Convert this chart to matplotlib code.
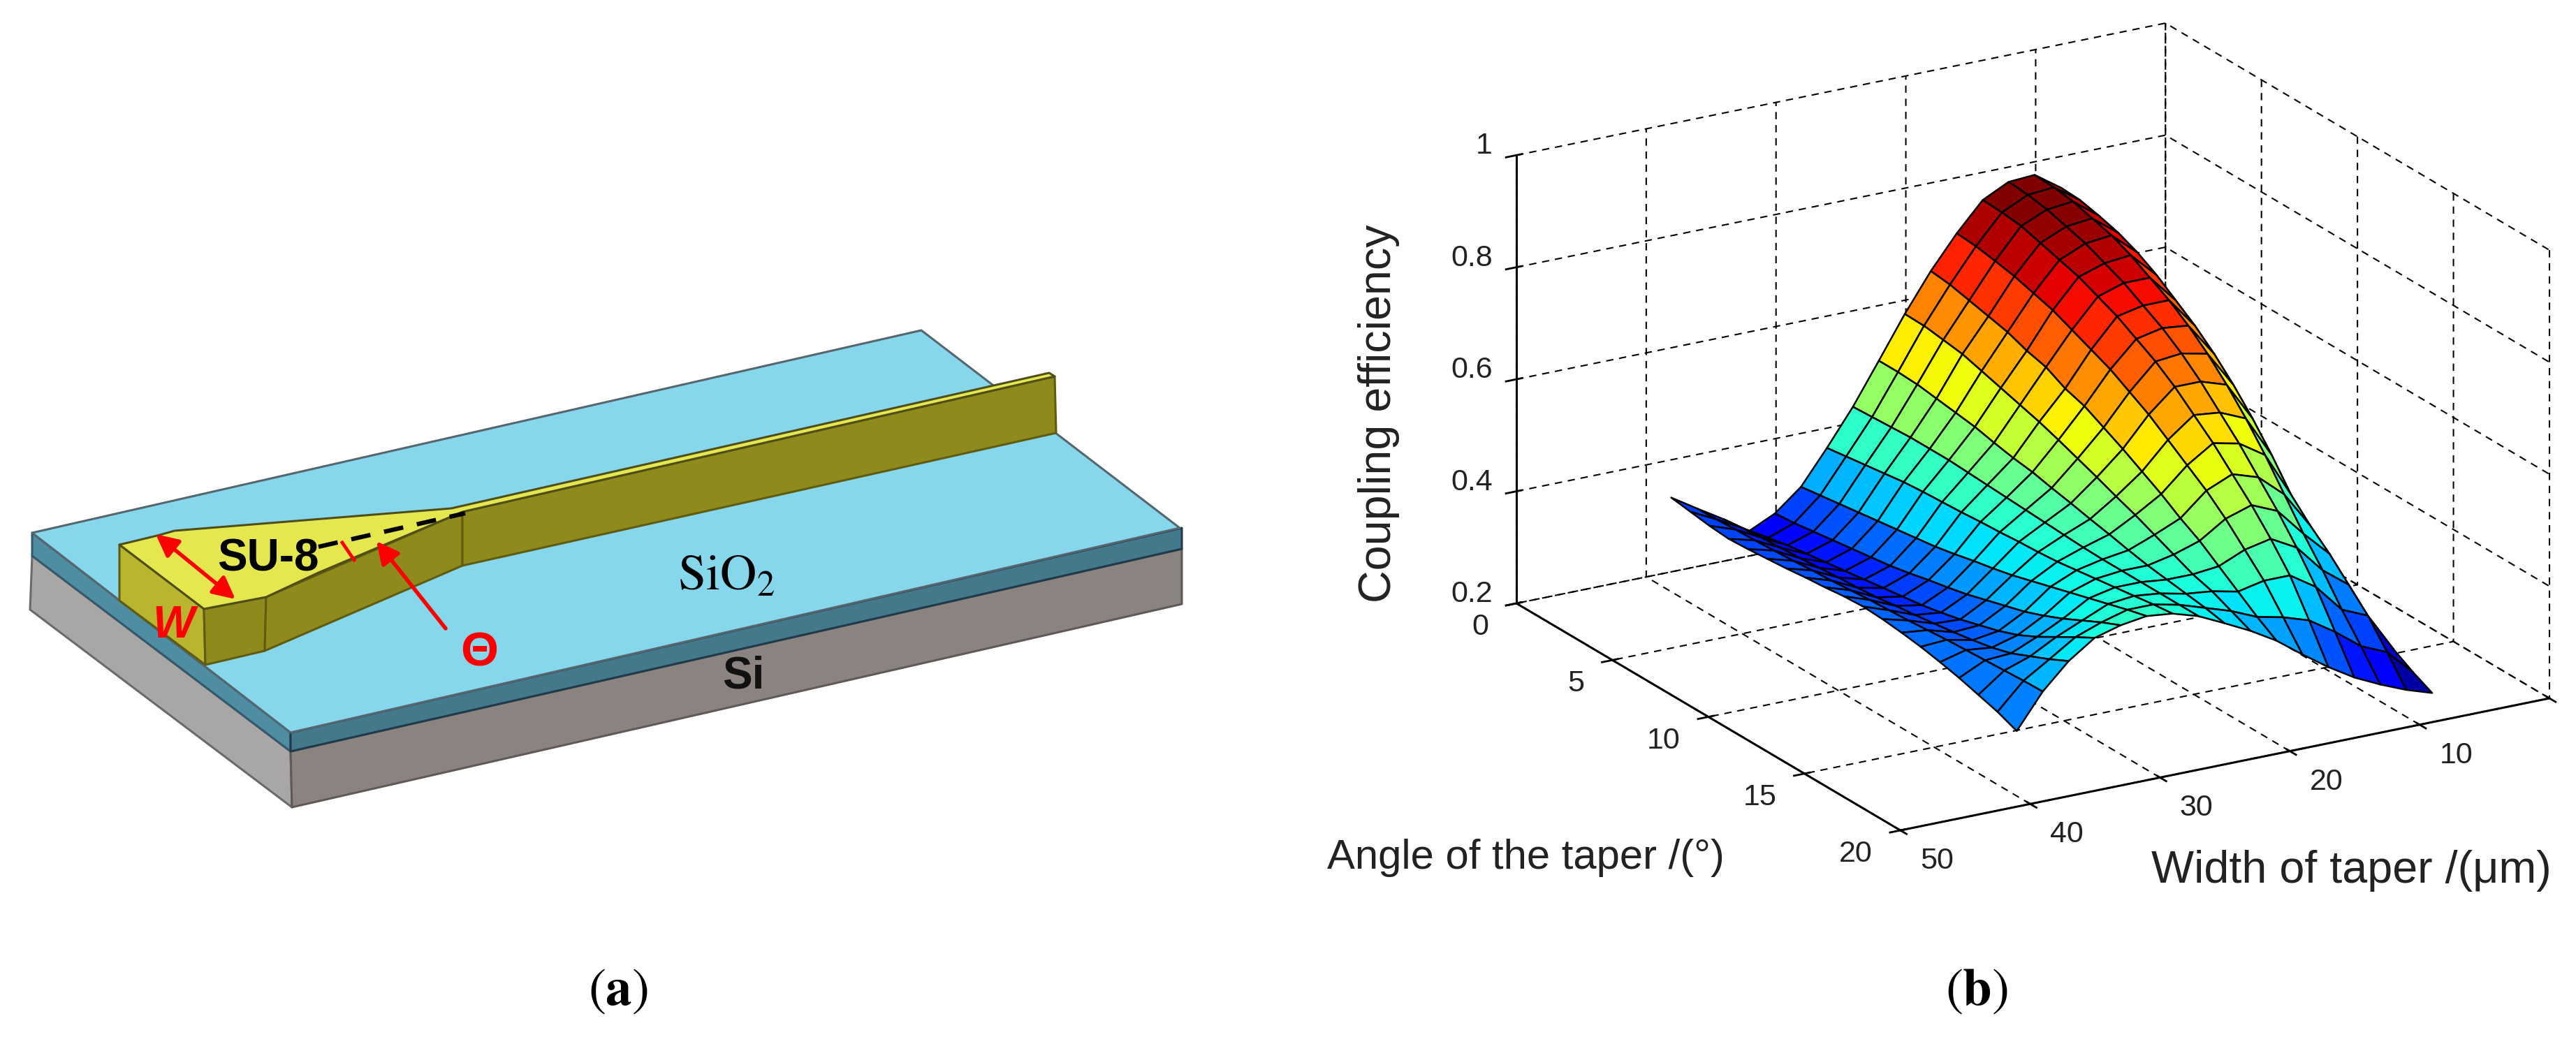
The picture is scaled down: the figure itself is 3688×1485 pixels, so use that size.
import numpy as np
import matplotlib
matplotlib.use('Agg')
import matplotlib.pyplot as plt
from matplotlib.patches import Polygon
from mpl_toolkits.mplot3d import proj3d

W, H = 3688, 1485

# surface values: one list per taper width, angle runs along each list
angle = [1.3, 2.3, 3.3, 4.3, 5.3, 6.3, 7.3, 8.3, 9.3, 10.3, 11.3, 12.3, 13.3, 14.3, 15.3, 16.3, 17.3, 18.3, 19.3]
width = [8, 10, 12, 14, 16, 18, 20, 22, 24, 26, 28, 30, 32, 34, 36, 38, 40]
z_w08 = [.72, .715, .70, .68, .66, .63, .60, .565, .525, .485, .445, .405, .37, .34, .315, .29, .27, .25, .233]
z_w10 = [.78, .778, .77, .76, .745, .725, .70, .675, .645, .61, .57, .525, .475, .44, .41, .375, .34, .295, .248]
z_w12 = [.812, .81, .805, .795, .785, .77, .75, .73, .705, .675, .64, .60, .555, .505, .455, .41, .36, .315, .267]
z_w14 = [.809, .806, .80, .79, .78, .765, .75, .73, .71, .685, .655, .62, .585, .545, .505, .46, .41, .35, .289]
z_w16 = [.786, .784, .78, .77, .76, .75, .735, .72, .70, .68, .655, .625, .595, .56, .525, .485, .44, .38, .317]
z_w18 = [.736, .733, .727, .72, .71, .70, .685, .67, .655, .635, .615, .59, .565, .54, .51, .475, .44, .395, .349]
z_w20 = [.678, .674, .666, .658, .65, .637, .628, .61, .599, .581, .563, .543, .523, .50, .48, .455, .43, .405, .383]
z_w22 = [.611, .61, .605, .60, .59, .58, .57, .56, .548, .535, .522, .508, .495, .48, .465, .45, .44, .425, .41]
z_w24 = [.537, .537, .535, .53, .525, .52, .512, .505, .50, .492, .485, .477, .47, .462, .455, .45, .445, .44, .433]
z_w26 = [.464, .466, .468, .47, .47, .47, .468, .466, .464, .462, .46, .458, .456, .455, .455, .455, .455, .455, .455]
z_w28 = [.40, .405, .41, .415, .42, .423, .425, .427, .43, .432, .435, .437, .44, .445, .45, .455, .46, .465, .469]
z_w30 = [.34, .345, .35, .355, .36, .365, .37, .375, .382, .39, .397, .405, .415, .425, .435, .445, .455, .465, .474]
z_w32 = [.302, .305, .31, .315, .32, .325, .33, .337, .345, .352, .36, .37, .38, .39, .403, .418, .435, .452, .467]
z_w34 = [.28, .288, .295, .30, .305, .31, .315, .32, .325, .33, .337, .345, .355, .365, .378, .395, .415, .435, .454]
z_w36 = [.311, .315, .318, .32, .322, .325, .328, .33, .333, .338, .342, .347, .352, .358, .365, .375, .39, .405, .422]
z_w38 = [.339, .34, .342, .343, .345, .347, .35, .352, .355, .358, .36, .362, .365, .368, .37, .372, .374, .376, .377]
z_w40 = [.368, .363, .358, .355, .357, .36, .363, .367, .37, .374, .376, .374, .37, .365, .358, .35, .34, .33, .316]

width_ticks = [0, 10, 20, 30, 40, 50]
angle_ticks = [0, 5, 10, 15, 20]
eff_ticks = [0.2, 0.4, 0.6, 0.8, 1.0]
eff_labels = ['0.2', '0.4', '0.6', '0.8', '1']

# schematic on the left, in picture pixels
top_face = [(46, 763), (1319, 473), (1689, 756), (416, 1049)]
oxide_left = [(46, 763), (416, 1049), (416, 1076), (46, 796)]
oxide_front = [(416, 1049), (1692, 756), (1692, 786), (416, 1076)]
si_left = [(46, 796), (416, 1076), (418, 1156), (43, 873)]
si_front = [(416, 1076), (1692, 786), (1692, 865), (418, 1156)]
su8_top = [(171, 780), (225, 767), (250, 760), (646, 728), (1502, 534), (1510, 539), (662, 733), (456, 820),
           (381, 855), (292, 872)]
su8_left = [(171, 780), (292, 872), (294, 952), (171, 860)]
su8_end = [(292, 872), (381, 855), (379, 932), (294, 952)]
su8_taper = [(381, 855), (662, 733), (662, 810), (379, 932)]
su8_guide = [(662, 733), (1510, 539), (1512, 620), (662, 810)]

plt.rcParams['font.family'] = ['Liberation Sans', 'DejaVu Sans']
plt.rcParams['grid.color'] = 'black'
plt.rcParams['grid.linewidth'] = 1.5
plt.rcParams['grid.linestyle'] = (0, (5, 4))

fig = plt.figure(figsize=(W / 100, H / 100), dpi=100, facecolor='white')

# left panel and all loose text sit on a full size pixel axes
over = fig.add_axes([0, 0, 1, 1], zorder=5)
over.set_xlim(0, W)
over.set_ylim(H, 0)
over.axis('off')


def face(pts, color, edge='#56666e', lw=2.2):
    over.add_patch(Polygon(pts, closed=True, facecolor=color, edgecolor=edge, linewidth=lw, joinstyle='round'))


face(si_left, '#a9a7a6', '#6a6a6a')
face(si_front, '#8a837f', '#5f5a58')
face(oxide_left, '#4f8da3', '#33596a')
face(oxide_front, '#44788b', '#1f3a48')
face(top_face, '#86d6ec')
face(su8_left, '#b9b52f', '#5f5c10')
face(su8_end, '#8f8a1c', '#5f5c10')
face(su8_taper, '#8f8a1c', '#5f5c10')
face(su8_guide, '#8f8a1c', '#5f5c10')
face(su8_top, '#e4e84e', '#4f4e1a')

over.plot([456, 666], [783, 735], color='black', lw=4.5, linestyle=(0, (4.5, 3.2)), solid_capstyle='butt')
over.plot([490, 507], [777, 802], color='red', lw=3.5)
over.annotate('', xy=(223, 765), xytext=(337, 858),
              arrowprops=dict(arrowstyle='<|-|>', color='red', lw=4, mutation_scale=48, shrinkA=0, shrinkB=0))
over.annotate('', xy=(539, 775), xytext=(638, 900),
              arrowprops=dict(arrowstyle='-|>', color='red', lw=4, mutation_scale=48, shrinkA=0, shrinkB=0))

over.text(384, 801, 'SU-8', fontsize=46, fontweight='bold', ha='center', va='center', color='black')
over.text(1064, 968, 'Si', fontsize=46, fontweight='bold', ha='center', va='center', color='#111111')
over.text(1040, 826, r'$\mathrm{SiO}_2$', fontsize=52, ha='center', va='center', math_fontfamily='stix')
over.text(248, 896, 'W', fontsize=46, fontweight='bold', fontstyle='italic', ha='center', va='center', color='red')
over.text(686, 935, 'Θ', fontsize=50, fontweight='bold', ha='center', va='center', color='red')
over.text(885, 1420, r'$(\mathbf{a})$', fontsize=54, ha='center', va='center', math_fontfamily='stix')
over.text(2830, 1420, r'$(\mathbf{b})$', fontsize=54, ha='center', va='center', math_fontfamily='stix')

# right panel
ax = fig.add_axes([0.55, 0.05, 0.3, 0.3 * W / H], projection='3d', proj_type='ortho', zorder=1)
ax.patch.set_visible(False)
ax.view_init(elev=20.3, azim=59.6)
ax.set_box_aspect((1077, 1086, 684))
ax.set_xlim(0, 50, view_margin=0)
ax.set_ylim(0, 20, view_margin=0)
ax.set_zlim(0.2, 1, view_margin=0)

X, Y = np.meshgrid(width, angle)
Z = np.array([z_w08, z_w10, z_w12, z_w14, z_w16, z_w18, z_w20, z_w22, z_w24, z_w26, z_w28, z_w30,
              z_w32, z_w34, z_w36, z_w38, z_w40]).T
colors = plt.cm.jet(plt.Normalize(0.23, 0.81)(Z))
ax.plot_surface(X, Y, Z, facecolors=colors, edgecolor='black', linewidth=1.8, rstride=1, cstride=1,
                shade=False, antialiased=True)

ax.set_xticks(width_ticks)
ax.set_yticks(angle_ticks)
ax.set_zticks(eff_ticks)
ax.set_xticklabels([''] * len(width_ticks))
ax.set_yticklabels([''] * len(angle_ticks))
ax.set_zticklabels([''] * len(eff_ticks))
for axis in (ax.xaxis, ax.yaxis, ax.zaxis):
    axis.set_pane_color((1, 1, 1, 0))
    axis.pane.set_edgecolor('none')
    axis.line.set_color('black')
    axis.line.set_linewidth(2.2)
    axis._axinfo['tick']['linewidth'] = {True: 2.0, False: 1.0}


def to_px(x, y, z):
    xs, ys, _ = proj3d.proj_transform(x, y, z, ax.get_proj())
    return ax.transData.transform((xs, ys))


# squeeze the 3d box onto the corners seen in the picture
fig.canvas.draw()
p1 = to_px(50, 0, 0.2)
p2 = to_px(0, 20, 0.2)
pos = ax.get_position()
left, bottom, size = pos.x0 * W, pos.y0 * H, pos.width * W
s = (3650 - 2171) / (p2[0] - p1[0])
new_left = 2171 - (p1[0] - left) * s
new_bottom = (H - 864) - (p1[1] - bottom) * s
ax.set_position([new_left / W, new_bottom / H, size * s / W, size * s / H])
fig.canvas.draw()


def label_at(x, y, z, dx, dy, text, ha='center'):
    px = to_px(x, y, z)
    over.text(px[0] + dx, H - px[1] + dy, text, fontsize=31, ha=ha, va='center', color='#222222')


for t, lab in zip(eff_ticks, eff_labels):
    label_at(50, 0, t, -34, -13, lab, ha='right')
for t in angle_ticks:
    label_at(50, t, 0.2, -40, 34, str(t), ha='right')
for t in width_ticks[1:]:
    label_at(t, 20, 0.2, 52, 44, str(t))

over.text(1974, 592, 'Coupling efficiency', fontsize=46.5, rotation=90, ha='center', va='center', color='#222222')
over.text(1900, 1228, 'Angle of the taper /(°)', fontsize=43, ha='left', va='center', color='#222222')
over.text(3080, 1247, 'Width of taper /(μm)', fontsize=46.5, ha='left', va='center', color='#222222')

fig.savefig('out.png', dpi=100, facecolor='white')
